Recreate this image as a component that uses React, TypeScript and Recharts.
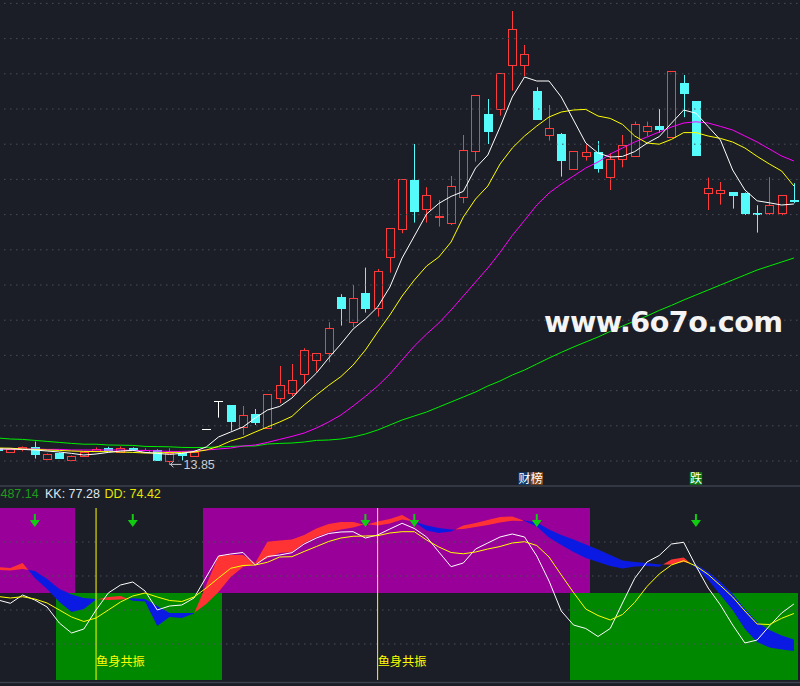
import React from "react";
import {
  ComposedChart,
  Bar,
  Line,
  Area,
  XAxis,
  YAxis,
  ReferenceLine,
  ReferenceDot,
} from "recharts";

// ---- price panel (one entry per trading day, oldest first) ----
const opens = [
  14.67, 14.45, 14.6, 14.73, 14.14, 14.4, 14.09, 14.27, 14.5, 14.66, 14.49, 14.65, 14.45, 14.55, 14.02, 14.41,
  14.27, 15.61, 17.02, 16.82, 15.71, 16.37, 15.66, 17.16, 17.44, 18.36, 19.09, 19.41, 22.22, 20.99, 22.41, 21.66,
  24.21, 25.61, 28.07, 26.61, 26.21, 25.91, 27.21, 29.51, 31.37, 31.62, 33.81, 33.81, 32.52, 30.31, 30.37, 28.61,
  29.26, 29.47, 28.24, 29.11, 29.25, 30.54, 30.77, 30.21, 32.92, 32.02, 27.41, 27.44, 27.47, 27.42, 26.42, 26.41,
  26.44, 27.05,
];
const closes = [
  14.57, 14.62, 14.7, 14.35, 14.37, 14.18, 14.27, 14.47, 14.62, 14.56, 14.66, 14.55, 14.57, 14.07, 14.41, 14.3,
  14.45, 15.61, 17.02, 16.04, 16.31, 15.99, 17.36, 17.81, 18.06, 19.56, 19.41, 20.66, 21.69, 22.16, 21.69, 23.51,
  25.66, 28.11, 26.54, 27.31, 26.27, 27.76, 29.56, 32.31, 30.54, 33.41, 35.61, 34.36, 31.11, 30.66, 29.07, 29.51,
  29.46, 28.69, 29.11, 29.81, 30.86, 30.77, 30.62, 33.52, 32.44, 29.32, 27.67, 27.57, 27.34, 26.44, 26.39, 26.81,
  27.31, 27.01,
];
const highs = [
  14.7, 14.67, 14.75, 14.99, 14.4, 14.45, 14.3, 14.5, 14.7, 14.73, 14.75, 14.7, 14.66, 14.6, 14.66, 14.45,
  14.5, 15.61, 17.02, 16.82, 16.77, 16.62, 17.37, 18.77, 18.87, 19.66, 19.42, 20.96, 22.36, 22.82, 23.69, 23.62,
  25.67, 28.12, 29.87, 27.71, 27.07, 28.27, 30.32, 32.32, 32.12, 33.42, 36.52, 34.82, 32.71, 31.82, 30.42, 29.52,
  29.91, 30.02, 29.41, 30.32, 30.99, 30.99, 31.62, 33.52, 33.32, 32.02, 28.19, 27.97, 27.47, 27.45, 26.81, 28.21,
  27.32, 27.91,
];
const lows = [
  14.55, 14.42, 14.5, 14.14, 14.12, 14.12, 14.07, 14.25, 14.47, 14.53, 14.47, 14.52, 14.42, 14.05, 13.85, 14.05,
  14.25, 15.61, 16.19, 15.54, 15.32, 15.82, 15.65, 16.91, 17.27, 17.82, 18.49, 18.96, 20.79, 20.71, 21.44, 21.24,
  23.44, 25.41, 25.94, 25.94, 25.74, 25.82, 26.91, 28.99, 29.87, 31.29, 32.54, 33.27, 31.11, 30.04, 28.24, 28.6,
  29.04, 28.44, 27.57, 28.7, 29.22, 30.27, 30.44, 30.2, 31.21, 29.32, 26.57, 26.84, 26.64, 26.32, 25.44, 26.32,
  26.31, 26.91,
];
const ma5 = [
  14.62, 14.62, 14.6, 14.57, 14.52, 14.47, 14.4, 14.32, 14.37, 14.45, 14.52, 14.55, 14.45, 14.4, 14.35, 14.4,
  14.5, 14.72, 15.22, 15.47, 15.72, 16.17, 16.57, 16.75, 17.17, 17.82, 18.42, 19.17, 19.87, 20.62, 21.12, 21.72,
  22.72, 24.17, 25.27, 26.37, 26.9, 27.25, 27.5, 28.67, 29.32, 30.72, 32.22, 33.22, 33.02, 33.02, 32.22, 31.07,
  29.92, 29.42, 29.22, 29.25, 29.49, 29.91, 30.24, 30.91, 31.57, 31.41, 30.74, 30.07, 28.57, 27.57, 27.03, 26.93,
  26.82, 26.87,
];
const ma10 = [
  14.67, 14.66, 14.62, 14.6, 14.57, 14.55, 14.52, 14.5, 14.49, 14.49, 14.47, 14.45, 14.42, 14.42, 14.45, 14.45,
  14.47, 14.57, 14.75, 15.02, 15.2, 15.47, 15.72, 15.97, 16.25, 16.82, 17.32, 17.8, 18.24, 18.82, 19.57, 20.47,
  21.32, 22.27, 23.07, 23.77, 24.22, 24.97, 26.22, 27.12, 27.77, 28.87, 29.67, 30.27, 30.77, 31.22, 31.47, 31.57,
  31.6, 31.27, 31.15, 30.85, 30.27, 29.92, 29.86, 30.1, 30.44, 30.44, 30.27, 30.15, 29.97, 29.67, 29.25, 28.87,
  28.52, 27.77,
];
const ma20 = [
  14.62, 14.62, 14.62, 14.62, 14.6, 14.6, 14.57, 14.57, 14.57, 14.57, 14.57, 14.55, 14.55, 14.52, 14.5, 14.5,
  14.52, 14.57, 14.62, 14.67, 14.77, 14.82, 14.95, 15.1, 15.25, 15.42, 15.67, 15.97, 16.32, 16.77, 17.25, 17.77,
  18.37, 19.07, 19.77, 20.37, 20.92, 21.57, 22.27, 22.97, 23.67, 24.45, 25.3, 26.05, 26.82, 27.42, 27.87, 28.27,
  28.67, 28.97, 29.37, 29.67, 29.97, 30.22, 30.47, 30.72, 30.92, 30.98, 30.92, 30.75, 30.57, 30.27, 29.97, 29.62,
  29.27, 29.02,
];
const ma60 = [
  15.17, 15.12, 15.1, 15.05, 15.0, 14.95, 14.9, 14.86, 14.86, 14.82, 14.81, 14.8, 14.75, 14.74, 14.73, 14.7,
  14.69, 14.7, 14.72, 14.75, 14.77, 14.77, 14.87, 14.9, 14.92, 14.97, 15.05, 15.07, 15.12, 15.22, 15.37, 15.57,
  15.82, 16.07, 16.27, 16.47, 16.72, 16.97, 17.22, 17.47, 17.77, 18.02, 18.32, 18.57, 18.87, 19.17, 19.45, 19.72,
  19.97, 20.22, 20.5, 20.77, 21.02, 21.27, 21.55, 21.8, 22.07, 22.32, 22.57, 22.82, 23.07, 23.32, 23.57, 23.77,
  23.97, 24.17,
];
const gridPrices = [36.9, 35.14, 33.38, 31.62, 29.86, 28.1, 26.34, 24.58, 22.82, 21.06, 19.3, 17.54, 15.78, 14.02];
const lowDay = 14;
const tagDays = [43, 44, 57];
const tagTexts = ["财", "榜", "跌"];
const tagColors = ["#0c3b6e", "#8a4810", "#0b7d0b"];
const tagLevel = 13.16;

// ---- indicator panel ----
const fast = [
  65.29, 64.71, 67.65, 58.82, 52.35, 44.71, 38.82, 40.59, 46.18, 47.65, 48.24, 45.47, 45.0, 30.59, 35.88, 35.29,
  38.0, 54.71, 71.76, 72.35, 72.35, 67.65, 80.18, 80.88, 81.47, 84.12, 87.94, 90.59, 91.76, 91.76, 90.0, 92.06,
  93.53, 95.88, 91.76, 86.76, 85.29, 86.18, 89.71, 91.18, 92.94, 94.71, 95.0, 92.35, 89.12, 82.65, 78.24, 74.12,
  70.59, 68.24, 65.88, 64.41, 65.59, 65.88, 65.47, 69.71, 70.88, 64.71, 57.65, 48.82, 40.0, 28.82, 21.18, 17.94,
  16.76, 15.88,
];
const slow = [
  63.53, 63.24, 64.12, 62.94, 58.24, 52.35, 49.12, 47.06, 46.47, 45.88, 46.18, 46.88, 46.47, 42.35, 38.24, 38.24,
  38.24, 43.53, 50.59, 59.41, 65.29, 67.35, 70.41, 73.53, 74.12, 79.41, 82.94, 85.59, 87.35, 88.53, 90.59, 89.71,
  90.88, 93.24, 92.06, 89.71, 88.24, 87.35, 87.65, 88.82, 90.0, 91.47, 92.53, 92.65, 91.47, 87.35, 84.12, 81.47,
  78.53, 75.59, 72.35, 69.12, 68.24, 67.65, 66.76, 66.76, 68.24, 66.76, 62.35, 56.47, 49.41, 40.59, 32.94, 28.24,
  25.0, 22.65,
];
const kLine = [
  45.88, 43.94, 48.82, 45.88, 41.76, 32.35, 26.47, 28.82, 40.0, 50.0, 54.71, 56.47, 51.18, 40.0, 42.35, 42.94,
  47.06, 59.41, 71.76, 72.94, 73.82, 66.47, 71.47, 72.35, 73.71, 78.82, 82.35, 85.0, 85.88, 86.06, 82.35, 84.12,
  87.65, 91.0, 87.94, 82.94, 74.12, 65.47, 67.65, 75.88, 79.41, 82.94, 84.71, 82.94, 71.76, 57.06, 39.41, 31.18,
  29.12, 24.41, 29.12, 44.12, 58.65, 68.24, 72.06, 78.82, 79.82, 65.88, 52.94, 42.94, 31.18, 20.59, 22.35, 30.59,
  38.24, 43.53,
];
const dLine = [
  47.94, 47.06, 47.82, 46.47, 44.12, 40.0, 35.88, 33.24, 35.29, 40.0, 44.71, 48.24, 50.0, 47.65, 45.59, 45.0,
  47.65, 52.94, 58.82, 64.53, 66.18, 66.47, 68.06, 71.18, 71.35, 74.41, 77.35, 80.29, 82.35, 83.35, 83.53, 83.71,
  85.29, 86.06, 86.06, 81.18, 77.06, 73.82, 73.06, 74.12, 75.88, 77.35, 79.41, 80.18, 77.94, 71.18, 60.59, 50.29,
  40.59, 36.76, 34.12, 37.35, 44.47, 53.82, 61.18, 66.47, 69.0, 65.88, 60.88, 54.41, 47.65, 39.41, 31.76, 31.47,
  35.12, 37.94,
];
const purpleSpans = [[0, 6], [17, 48]];
const greenSpans = [[5, 18], [47, 65]];
const purpleBand = [50, 100];
const greenBand = [-1.2, 50];
const arrowDays = [3, 11, 30, 34, 44, 57];
const arrowLevel = 88.8;
const signalDays = [8, 31];
const signalText = "鱼身共振";
const signalTextLevel = 7;
const gridLevels = [80, 60, 40, 20];
const headerValues = [
  { text: "3487.14", color: "#1f9a1f" },
  { text: "KK: 77.28", color: "#dfe6ee" },
  { text: "DD: 74.42", color: "#e6e600" },
];

const BG = "#1b1e26";
const UP = "#ff3b3b";
const DOWN = "#55fbfb";
const RED = "#ff3333";
const BLUE = "#0a1ae2";
const PURPLE = "#990099";
const GREEN = "#008800";

const inSpan = (spans: number[][], k: number) => spans.some(([a, b]) => k >= a && k <= b);

const rows = opens.map((o, k) => ({
  day: k,
  open: o,
  close: closes[k],
  high: highs[k],
  low: lows[k],
  range: [lows[k], highs[k]],
  ma5: ma5[k],
  ma10: ma10[k],
  ma20: ma20[k],
  ma60: ma60[k],
  band: [slow[k], fast[k]],
  k: kLine[k],
  d: dLine[k],
  purple: inSpan(purpleSpans, k) ? purpleBand : null,
  green: inSpan(greenSpans, k) ? greenBand : null,
}));

// red where the fast line is above the slow one, blue otherwise
function ribbonStops() {
  const n = fast.length;
  const out: { o: number; c: string }[] = [];
  let col = fast[0] >= slow[0] ? RED : BLUE;
  out.push({ o: 0, c: col });
  for (let k = 0; k < n - 1; k++) {
    const d0 = fast[k] - slow[k];
    const d1 = fast[k + 1] - slow[k + 1];
    if (d0 >= 0 !== d1 >= 0) {
      const off = (k + d0 / (d0 - d1)) / (n - 1);
      out.push({ o: off, c: col });
      col = d1 >= 0 ? RED : BLUE;
      out.push({ o: off, c: col });
    }
  }
  out.push({ o: 1, c: col });
  return out;
}

function Candle(props: any) {
  const { x, y, width, height, payload } = props;
  if (x == null || payload == null) return null;
  const top = Math.min(y, y + height);
  const bot = Math.max(y, y + height);
  const { open, close, high, low } = payload;
  const span = high - low;
  const py = (v: number) => (span > 0 ? top + ((high - v) / span) * (bot - top) : top);
  const cx = Math.floor(x + width / 2) + 0.5;
  const left = Math.round(x) + 0.5;
  const w = Math.round(width) - 1;
  if (open === close) {
    const yy = Math.round(py(open)) + 0.5;
    return (
      <g>
        {bot - top > 0.5 && <line x1={cx} x2={cx} y1={top} y2={bot} stroke="#ffffff" />}
        <line x1={left - 0.5} x2={left + w + 0.5} y1={yy} y2={yy} stroke="#ffffff" />
      </g>
    );
  }
  const bTop = Math.round(py(Math.max(open, close))) + 0.5;
  const bBot = Math.max(bTop + 1, Math.round(py(Math.min(open, close))) + 0.5);
  if (close > open) {
    return (
      <g>
        <line x1={cx} x2={cx} y1={top} y2={bTop} stroke={UP} />
        <line x1={cx} x2={cx} y1={bBot} y2={bot} stroke={UP} />
        <rect x={left} y={bTop} width={w} height={bBot - bTop} fill={BG} stroke={UP} />
      </g>
    );
  }
  return (
    <g>
      <line x1={cx} x2={cx} y1={top} y2={bot} stroke={DOWN} />
      <rect x={left - 0.5} y={bTop - 0.5} width={w + 1} height={bBot - bTop + 1} fill={DOWN} />
    </g>
  );
}

// zone blocks run from just left of the first day's centre to just right of the last day's centre
const zoneShape = (key: "purple" | "green", color: string) => (props: any) => {
  const { x, y, width, height, payload } = props;
  if (x == null || !height || payload == null) return null;
  const cx = x + width / 2;
  const next = rows[payload.day + 1];
  const last = !next || next[key] == null;
  const l = Math.round(cx - 3);
  const r = last ? Math.round(cx + 4) : Math.round(cx + width - 3) + 1;
  return <rect x={l} y={y} width={r - l} height={height} fill={color} shapeRendering="crispEdges" />;
};

function LowMark(props: any) {
  const { cx, cy } = props;
  if (cx == null) return null;
  return (
    <g>
      <line x1={cx} x2={cx + 12} y1={cy} y2={cy} stroke="#c9ccd2" />
      <polyline points={`${cx + 4},${cy - 3} ${cx + 1},${cy} ${cx + 4},${cy + 3}`} fill="none" stroke="#c9ccd2" />
      <text x={cx + 14} y={cy + 4.5} fill="#c9ccd2" fontSize={12.5} fontFamily="Liberation Sans, Arial">
        {lows[lowDay].toFixed(2)}
      </text>
    </g>
  );
}

const tagShape = (i: number) => (props: any) => {
  const { cx, cy } = props;
  if (cx == null) return null;
  return (
    <g>
      <rect x={cx - 6.2} y={cy - 6} width={12.4} height={12.5} fill={tagColors[i]} />
      <text x={cx} y={cy + 4.6} textAnchor="middle" fill="#ffffff" fontSize={12} fontFamily="Noto Sans CJK SC">
        {tagTexts[i]}
      </text>
    </g>
  );
};

function ArrowMark(props: any) {
  const { cx, cy } = props;
  if (cx == null) return null;
  return (
    <g fill="#11cc11">
      <rect x={cx - 1} y={cy - 13} width={2} height={7} />
      <polygon points={`${cx - 5},${cy - 7} ${cx + 5},${cy - 7} ${cx},${cy}`} />
    </g>
  );
}

function SignalText(props: any) {
  const { cx, cy } = props;
  if (cx == null) return null;
  return (
    <text x={cx} y={cy} fill="#ffff00" fontSize={12.2} fontFamily="Noto Sans CJK SC">
      {signalText}
    </text>
  );
}

const layer = (top: number): React.CSSProperties => ({ position: "absolute", left: -8.3, top });
const lowerDomain = [-2.35, 111.76];

export default function App() {
  const stops = ribbonStops();
  return (
    <div
      style={{
        position: "absolute",
        left: 0,
        top: 0,
        width: 800,
        height: 686,
        background: BG,
        overflow: "hidden",
      }}
    >
      <div style={layer(0)}>
        <ComposedChart width={808} height={486} data={rows} margin={{ top: 0, right: 0, bottom: 0, left: 0 }}>
          <XAxis dataKey="day" hide />
          <YAxis hide domain={[12.77, 37.07]} allowDataOverflow />
          {gridPrices.map((p) => (
            <ReferenceLine key={p} y={p} stroke="#4a4f5b" strokeDasharray="1.5 4.5" />
          ))}
          <Bar dataKey="range" barSize={9} shape={<Candle />} isAnimationActive={false} />
          <Line dataKey="ma60" stroke="#00ee00" dot={false} activeDot={false} strokeWidth={1} isAnimationActive={false} />
          <Line dataKey="ma20" stroke="#ff00ff" dot={false} activeDot={false} strokeWidth={1} isAnimationActive={false} />
          <Line dataKey="ma10" stroke="#ffff00" dot={false} activeDot={false} strokeWidth={1} isAnimationActive={false} />
          <Line dataKey="ma5" stroke="#ffffff" dot={false} activeDot={false} strokeWidth={1} isAnimationActive={false} />
          <ReferenceDot x={lowDay} y={lows[lowDay]} r={0} shape={(p: any) => <LowMark {...p} />} />
          {tagDays.map((d, i) => (
            <ReferenceDot key={d} x={d} y={tagLevel} r={0} shape={tagShape(i)} />
          ))}
        </ComposedChart>
      </div>

      {/* indicator panel, back layer: grid and zone blocks */}
      <div style={layer(488)}>
        <ComposedChart
          width={808}
          height={194}
          data={rows}
          margin={{ top: 0, right: 0, bottom: 0, left: 0 }}
          barCategoryGap={0}
          barGap={0}
        >
          <XAxis dataKey="day" hide />
          <XAxis xAxisId="p" dataKey="day" hide />
          <XAxis xAxisId="g" dataKey="day" hide />
          <YAxis hide domain={lowerDomain} allowDataOverflow />
          {gridLevels.map((v) => (
            <ReferenceLine key={v} y={v} stroke="#4a4f5b" strokeDasharray="1.5 4.5" />
          ))}
          <Bar xAxisId="p" dataKey="purple" fill={PURPLE} shape={zoneShape("purple", PURPLE)} isAnimationActive={false} />
          <Bar xAxisId="g" dataKey="green" fill={GREEN} shape={zoneShape("green", GREEN)} isAnimationActive={false} />
        </ComposedChart>
      </div>

      {/* indicator panel, front layer: ribbon, lines and markers */}
      <div style={layer(488)}>
        <ComposedChart width={808} height={194} data={rows} margin={{ top: 0, right: 0, bottom: 0, left: 0 }}>
          <defs>
            <linearGradient id="ribbon" x1="0" y1="0" x2="1" y2="0">
              {stops.map((s, i) => (
                <stop key={i} offset={s.o} stopColor={s.c} />
              ))}
            </linearGradient>
          </defs>
          <XAxis dataKey="day" hide scale="band" />
          <YAxis hide domain={lowerDomain} allowDataOverflow />
          {signalDays.map((d) => (
            <ReferenceLine
              key={d}
              segment={[
                { x: d, y: purpleBand[1] },
                { x: d, y: greenBand[0] },
              ]}
              stroke="#ffff00"
            />
          ))}
          <Area
            dataKey="band"
            type="linear"
            stroke="none"
            fill="url(#ribbon)"
            fillOpacity={1}
            dot={false}
            activeDot={false}
            isAnimationActive={false}
          />
          <Line dataKey="k" stroke="#ffffff" dot={false} activeDot={false} strokeWidth={1} isAnimationActive={false} />
          <Line dataKey="d" stroke="#ffff00" dot={false} activeDot={false} strokeWidth={1} isAnimationActive={false} />
          {arrowDays.map((d) => (
            <ReferenceDot key={d} x={d} y={arrowLevel} r={0} shape={(p: any) => <ArrowMark {...p} />} />
          ))}
          {signalDays.map((d) => (
            <ReferenceDot key={d} x={d} y={signalTextLevel} r={0} shape={(p: any) => <SignalText {...p} />} />
          ))}
        </ComposedChart>
      </div>

      <svg width={800} height={686} style={{ position: "absolute", left: 0, top: 0, pointerEvents: "none" }}>
        <line x1={0} x2={800} y1={486} y2={486} stroke="#3b414d" strokeWidth={1.5} />
        <line x1={0} x2={800} y1={682.5} y2={682.5} stroke="#3b414d" strokeWidth={1.5} />
        <text y={498} fontSize={12.5} fontFamily="Liberation Sans, Arial">
          <tspan x={-6.5} fill={headerValues[0].color}>{headerValues[0].text}</tspan>
          <tspan x={45} fill={headerValues[1].color}>{headerValues[1].text}</tspan>
          <tspan x={104.5} fill={headerValues[2].color}>{headerValues[2].text}</tspan>
        </text>
        <text
          x={544}
          y={332}
          fill="#f4f4f4"
          fontSize={28.6}
          fontWeight="bold"
          letterSpacing={-0.5}
          fontFamily="DejaVu Sans"
        >
          www.6o7o.com
        </text>
      </svg>
    </div>
  );
}
